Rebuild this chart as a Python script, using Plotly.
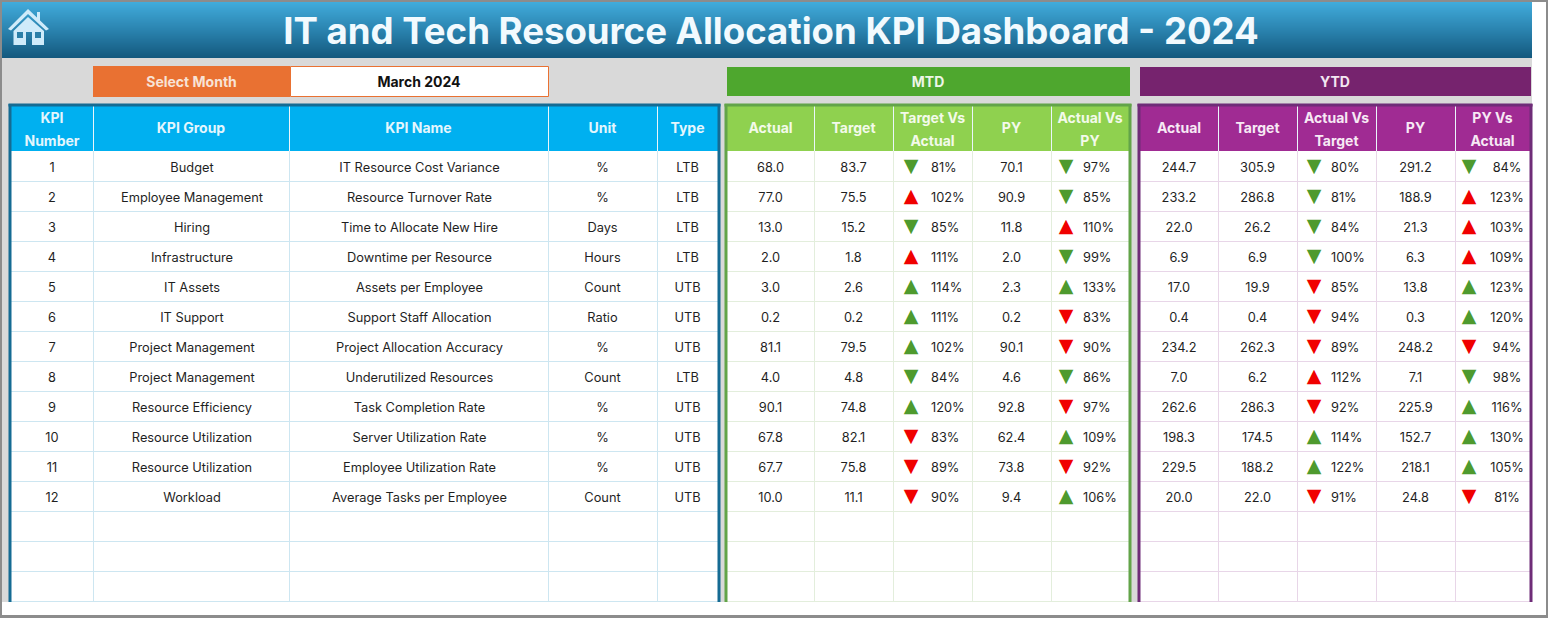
import plotly.graph_objects as go

# table contents
kpi_number = [str(i) for i in [1, 2, 3, 4, 5, 6, 7, 8, 9, 10, 11, 12]]
kpi_group = ["Budget", "Employee Management", "Hiring", "Infrastructure", "IT Assets", "IT Support",
             "Project Management", "Project Management", "Resource Efficiency", "Resource Utilization",
             "Resource Utilization", "Workload"]
kpi_name = ["IT Resource Cost Variance", "Resource Turnover Rate", "Time to Allocate New Hire",
            "Downtime per Resource", "Assets per Employee", "Support Staff Allocation",
            "Project Allocation Accuracy", "Underutilized Resources", "Task Completion Rate",
            "Server Utilization Rate", "Employee Utilization Rate", "Average Tasks per Employee"]
unit = ["%", "%", "Days", "Hours", "Count", "Ratio", "%", "Count", "%", "%", "%", "Count"]
kpi_type = ["LTB", "LTB", "LTB", "LTB", "UTB", "UTB", "UTB", "LTB", "UTB", "UTB", "UTB", "UTB"]

mtd_actual = [68.0, 77.0, 13.0, 2.0, 3.0, 0.2, 81.1, 4.0, 90.1, 67.8, 67.7, 10.0]
mtd_target = [83.7, 75.5, 15.2, 1.8, 2.6, 0.2, 79.5, 4.8, 74.8, 82.1, 75.8, 11.1]
mtd_tva = [81, 102, 85, 111, 114, 111, 102, 84, 120, 83, 89, 90]
mtd_tva_dir = ["d", "u", "d", "u", "u", "u", "u", "d", "u", "d", "d", "d"]
mtd_py = [70.1, 90.9, 11.8, 2.0, 2.3, 0.2, 90.1, 4.6, 92.8, 62.4, 73.8, 9.4]
mtd_avp = [97, 85, 110, 99, 133, 83, 90, 86, 97, 109, 92, 106]
mtd_avp_dir = ["d", "d", "u", "d", "u", "d", "d", "d", "d", "u", "d", "u"]

ytd_actual = [244.7, 233.2, 22.0, 6.9, 17.0, 0.4, 234.2, 7.0, 262.6, 198.3, 229.5, 20.0]
ytd_target = [305.9, 286.8, 26.2, 6.9, 19.9, 0.4, 262.3, 6.2, 286.3, 174.5, 188.2, 22.0]
ytd_avt = [80, 81, 84, 100, 85, 94, 89, 112, 92, 114, 122, 91]
ytd_avt_dir = ["d", "d", "d", "d", "d", "d", "d", "u", "d", "u", "u", "d"]
ytd_py = [291.2, 188.9, 21.3, 6.3, 13.8, 0.3, 248.2, 7.1, 225.9, 152.7, 218.1, 24.8]
ytd_pva = [84, 123, 103, 109, 123, 120, 94, 98, 116, 130, 105, 81]
ytd_pva_dir = ["d", "u", "u", "u", "u", "u", "d", "d", "u", "u", "u", "d"]

left_headers = [["KPI", "Number"], ["KPI Group"], ["KPI Name"], ["Unit"], ["Type"]]
mtd_headers = [["Actual"], ["Target"], ["Target Vs", "Actual"], ["PY"], ["Actual Vs", "PY"]]
ytd_headers = [["Actual"], ["Target"], ["Actual Vs", "Target"], ["PY", ], ["PY Vs", "Actual"]]

# page geometry, in screen pixels
W, H = 1548, 618
left_cols = [11, 93, 289, 548, 657, 718]
mtd_cols = [727, 814, 893, 972, 1051, 1129]
ytd_cols = [1140, 1218, 1297, 1376, 1455, 1530]
head_top, head_bot = 106, 151
row_h = 30
n_rows = 15
rows = [head_bot + row_h * i for i in range(n_rows + 1)]
row_mid = [r + row_h / 2 for r in rows[:12]]
text_drop = 3  # svg text sits a bit high of the row centre

FONT = "Inter"
GREEN = "#4E9A2E"
RED = "#F00000"

fig = go.Figure()
shapes = []


def rect(x0, y0, x1, y1, fill, line=None, width=0):
    shapes.append(dict(type="rect", x0=x0, y0=y0, x1=x1, y1=y1, fillcolor=fill, layer="below",
                       line=dict(color=line or fill, width=width)))


def seg(x0, y0, x1, y1, color, width=1):
    shapes.append(dict(type="line", x0=x0, y0=y0, x1=x1, y1=y1, layer="below",
                       line=dict(color=color, width=width)))


def text(xs, ys, labels, size=12.8, color="#1F1F1F", bold=False, pos="middle center"):
    fig.add_trace(go.Scatter(x=xs, y=[y + text_drop for y in ys], text=labels, mode="text", textposition=pos,
                             cliponaxis=False, hoverinfo="skip", showlegend=False,
                             textfont=dict(family=FONT, size=size, color=color, weight=700 if bold else 400)))


def mid(cols, i):
    return (cols[i] + cols[i + 1]) / 2


def table(cols, head_fill, border, grid, headers, head_color):
    rect(cols[0], head_top, cols[-1], rows[-1], "white")
    rect(cols[0], head_top, cols[-1], head_bot, head_fill)
    for r in rows[1:]:
        seg(cols[0], r + 0.5, cols[-1], r + 0.5, grid)
    for c in cols[1:-1]:
        seg(c + 0.5, head_bot, c + 0.5, rows[-1], grid)
        seg(c + 0.5, head_top, c + 0.5, head_bot, "#EAF6FB")
    # thick frame, open at the bottom
    seg(cols[0] - 1, head_top - 2, cols[0] - 1, rows[-1] + 1, border, 3)
    seg(cols[-1] + 1, head_top - 2, cols[-1] + 1, rows[-1] + 1, border, 3)
    seg(cols[0] - 2.5, head_top - 1, cols[-1] + 2.5, head_top - 1, border, 3)
    for i, lines in enumerate(headers):
        if len(lines) == 1:
            text([mid(cols, i)], [126.5], lines, 14, head_color, True)
        else:
            text([mid(cols, i)] * 2, [116, 139], lines, 14, head_color, True)


def arrows(x, dirs):
    good = [(t == "LTB") == (d == "d") for t, d in zip(kpi_type, dirs)]
    fig.add_trace(go.Scatter(
        x=[x] * len(dirs), y=[y + 1.5 for y in row_mid], mode="text", hoverinfo="skip", showlegend=False,
        text=["▼" if d == "d" else "▲" for d in dirs], textposition="middle center", cliponaxis=False,
        textfont=dict(family="DejaVu Sans", size=19, color=[GREEN if g else RED for g in good])))


def values(cols, i, vals):
    text([mid(cols, i)] * len(vals), row_mid, [f"{v:.1f}" for v in vals])


def percents(x, vals, pos="middle right"):
    text([x] * len(vals), row_mid, [f"{v}%" for v in vals], pos=pos)


# window frame and backgrounds
rect(0, 0, W, H, "#8C8C8C")
rect(2, 2, 1546, 615, "white")
rect(2, 58, 1532, 602, "#D9D9D9")

# gradient banner
band = list(range(2, 59))
fig.add_trace(go.Heatmap(x=[2, 1532], y=band, z=[[i] for i in range(len(band) - 1)], showscale=False,
                         hoverinfo="skip",
                         colorscale=[[0, "#41ABDB"], [0.5, "#2A83AF"], [1, "#14597E"]]))

# home icon
roof = "M 28 9 L 49 29 L 46 30.5 L 28 14 L 11 30.5 L 8 29 Z"
house = "M 28 17 L 44 31 L 44 45 L 32 45 L 32 32 L 26 32 L 26 45 L 13.5 45 L 13.5 31 Z"
chimney = "M 37 12 L 40 12 L 40 22 L 37 19 Z"
for p in [roof, house, chimney]:
    shapes.append(dict(type="path", path=p, fillcolor="#CFEBFA", line=dict(width=0), layer="above"))
for x0, x1 in [(17, 23), (35, 41)]:
    shapes.append(dict(type="rect", x0=x0, x1=x1, y0=32, y1=38, fillcolor="#2B7FA8", line=dict(width=0), layer="above"))

# selector and section bars
rect(93, 66, 290, 97, "#E97132")
rect(290.5, 66.5, 548.5, 96.5, "white", "#E97132", 1)
text([191.5], [80.5], ["Select Month"], 14, "#F8E3D6", True)
text([419], [80.5], ["March 2024"], 14, "#111111", True)
rect(727, 67, 1130, 96, "#4EA72E")
text([928], [80.5], ["MTD"], 14, "#EDF6E8", True)
rect(1140, 67, 1531, 96, "#76236E")
text([1335], [80.5], ["YTD"], 14, "#F3E6F1", True)

# the three tables
table(left_cols, "#00B0F0", "#156B93", "#CDE6F1", left_headers, "#E4F6FD")
table(mtd_cols, "#8FD14F", "#62A449", "#E3EEDC", mtd_headers, "#F3FAEA")
table(ytd_cols, "#A02B93", "#6F2C78", "#E8D6E8", ytd_headers, "#F7E9F5")

for i, col in enumerate([kpi_number, kpi_group, kpi_name, unit, kpi_type]):
    nudge = 1 if i in (1, 2) else 0
    text([mid(left_cols, i) + nudge] * len(col), row_mid, col)

values(mtd_cols, 0, mtd_actual)
values(mtd_cols, 1, mtd_target)
arrows(911, mtd_tva_dir)
percents(931, mtd_tva)
values(mtd_cols, 3, mtd_py)
arrows(1066, mtd_avp_dir)
percents(1083, mtd_avp)

values(ytd_cols, 0, ytd_actual)
values(ytd_cols, 1, ytd_target)
arrows(1314, ytd_avt_dir)
percents(1331, ytd_avt)
values(ytd_cols, 3, ytd_py)
arrows(1469, ytd_pva_dir)
percents(1507, ytd_pva, "middle center")

fig.update_layout(
    width=W, height=H, margin=dict(l=0, r=0, t=0, b=0), plot_bgcolor="white", paper_bgcolor="white",
    shapes=shapes, showlegend=False,
    title=dict(text="IT and Tech Resource Allocation KPI Dashboard - 2024", x=771 / W, y=1 - 31 / H,
               xanchor="center", yanchor="middle", font=dict(family=FONT, size=36.6, color="#F2FAFE", weight=700)),
    xaxis=dict(range=[0, W], visible=False, fixedrange=True),
    yaxis=dict(range=[H, 0], visible=False, fixedrange=True),
)

fig.write_html("out.html", config=dict(displayModeBar=False),
               post_script="document.body.style.margin='0';document.body.style.overflow='hidden';")
